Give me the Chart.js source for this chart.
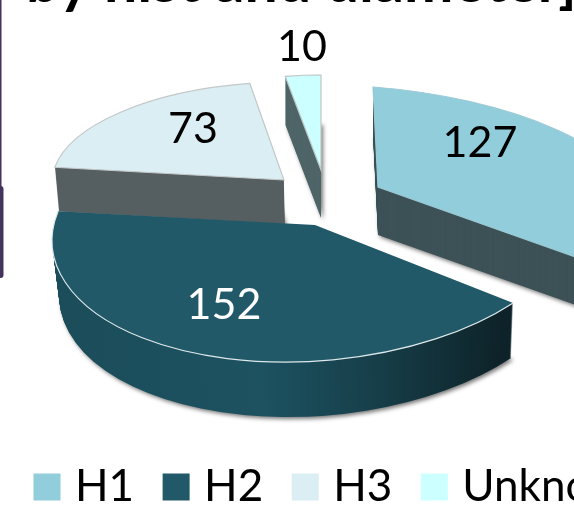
<!DOCTYPE html>
<html><head><meta charset="utf-8">
<style>html,body{margin:0;padding:0;background:#fff;width:574px;height:506px;overflow:hidden}canvas{display:block}</style>
<script src="https://cdn.jsdelivr.net/npm/chart.js@4"></script></head>
<body><canvas id="c" width="760" height="519"></canvas>
<script>
const categories = ['H1','H2','H3','Unknown'];
const values = [127,152,73,10];
const faceColors = ['#92CDDC','#215968','#DAEEF3','#CCFFFF'];
const wallColors = ['#3D5257','#1D505E','#565F61','#4F6568'];
const edgeColors = ['#9CCBD6','#DCE8EB','#C4C8C9','#C0C6C6'];
const titleText = 'by hist and diameter]';
// page geometry of each exploded wedge: apex, ellipse radii, shears, extrusion, perspective narrowing
const wedges = [
  {cx:378,cy:187,rx:260,ry:100,s:5,t:20,depth:48,shift:0,narrow:0},
  {cx:315,cy:225,rx:262,ry:137,s:-22,t:-4,depth:55,shift:2,narrow:5},
  {cx:284,cy:180,rx:232,ry:98,s:-6,t:0,depth:44,shift:1,narrow:3},
  {cx:321,cy:170,rx:207,ry:95,s:0,t:0,depth:48,shift:0,narrow:0}
];
const labelSpots = [[480,143,'#000'],[224,305,'#fff'],[193,129,'#000'],[302,47,'#000']];
const drawOrder = [0,3,2,1];

const pie3d = {
  id:'pie3d',
  beforeDraw(chart){
    const c = chart.ctx;
    c.save();
    c.fillStyle='#43325C';
    c.fillRect(0,0,1.5,190);
    c.beginPath();
    c.roundRect(-4,186,7.5,92,3);
    c.fill();
    c.fillStyle='#000';
    c.font='bold 59px Lato';
    c.textAlign='left';c.textBaseline='alphabetic';
    c.fillText(titleText,26,2);
    c.restore();
  },
  beforeDatasetDraw(chart){
    const ctx = chart.ctx;
    const arcs = chart.getDatasetMeta(0).data;
    drawOrder.forEach(i=>{
      const arc = arcs[i], w = wedges[i], R = arc.outerRadius;
      const place = dy => {
        const f = dy/w.depth;
        const a=(w.rx-w.narrow*f)/R, b=w.t/R, c=w.s/R, d=w.ry/R;
        const px = w.cx+w.shift*f, py = w.cy+dy;
        ctx.transform(a,b,c,d, px-a*arc.x-c*arc.y, py-b*arc.x-d*arc.y);
      };
      let wall = wallColors[i];
      const a0 = w.rx/R;
      if(i===1){
        const g = ctx.createLinearGradient(arc.x+(50-w.cx)/a0,0,arc.x+(515-w.cx)/a0,0);
        g.addColorStop(0,'#1B4C59');g.addColorStop(0.5,'#1D5261');g.addColorStop(0.75,'#163E49');g.addColorStop(1,'#0E2329');
        wall = g;
      }
      const wallArc = Object.create(arc);
      wallArc.options = Object.create(arc.options,{backgroundColor:{value:wall},borderWidth:{value:0}});
      for(let dy=w.depth;dy>=1;dy--){
        ctx.save();
        if(dy===w.depth){ctx.shadowColor='rgba(0,0,0,.55)';ctx.shadowBlur=4;ctx.shadowOffsetX=2;ctx.shadowOffsetY=2;}
        place(dy);
        wallArc.draw(ctx);
        ctx.restore();
      }
      ctx.save();
      place(0);
      arc.draw(ctx);
      ctx.beginPath();
      if(i!==1) ctx.moveTo(arc.x,arc.y);
      ctx.arc(arc.x,arc.y,R,arc.startAngle,arc.endAngle);
      if(i!==1) ctx.closePath();
      ctx.restore();
      ctx.strokeStyle=edgeColors[i];ctx.lineWidth=1.2;ctx.stroke();
    });
    ctx.save();
    ctx.font='43px Lato';ctx.textAlign='center';ctx.textBaseline='middle';
    values.forEach((v,i)=>{ctx.fillStyle=labelSpots[i][2];ctx.fillText(String(v),labelSpots[i][0],labelSpots[i][1]);});
    ctx.restore();
    return false;
  }
};

new Chart(document.getElementById('c'),{
  type:'pie',
  data:{labels:categories,datasets:[{data:values,backgroundColor:faceColors,borderWidth:0}]},
  options:{
    responsive:false,animation:false,
    layout:{padding:{left:5}},
    plugins:{
      tooltip:{enabled:false},
      title:{display:false},
      legend:{position:'bottom',align:'start',
        labels:{usePointStyle:true,pointStyle:'rect',boxWidth:12,boxHeight:27,padding:36,color:'#000',font:{family:'Lato',size:44}}}
    }
  },
  plugins:[pie3d]
});
</script></body></html>
